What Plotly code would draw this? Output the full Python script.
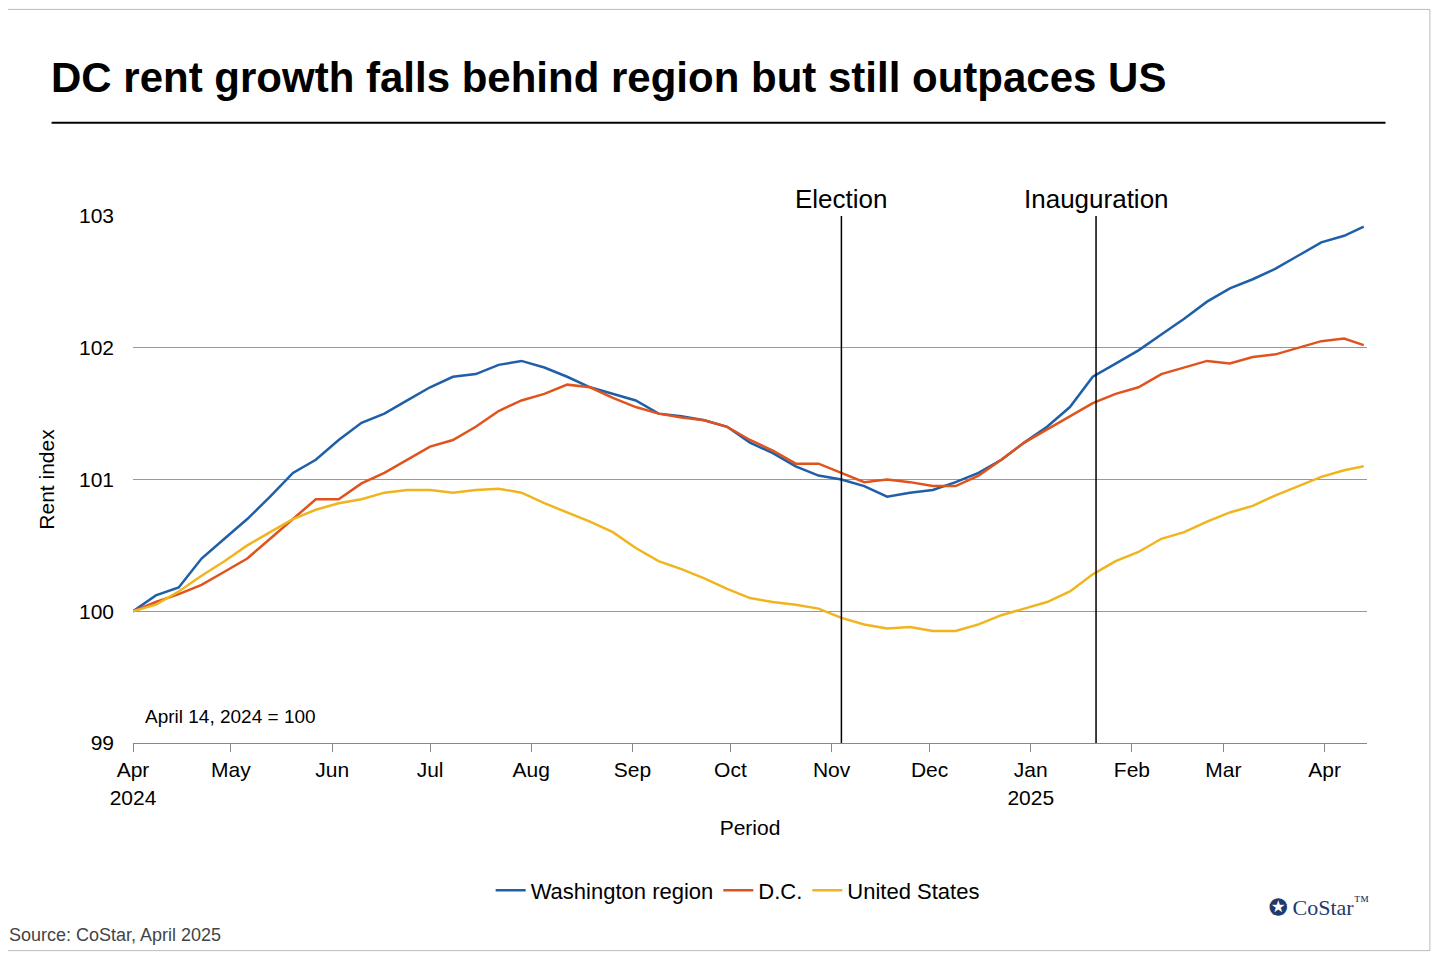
import pandas as pd
import plotly.graph_objects as go

dates = list(pd.date_range("2024-04-01", periods=54, freq="7D")) + [pd.Timestamp("2025-04-13")]

washington = [100.0, 100.12, 100.18, 100.4, 100.55, 100.7, 100.87, 101.05, 101.15, 101.3,
              101.43, 101.5, 101.6, 101.7, 101.78, 101.8, 101.87, 101.9, 101.85, 101.78,
              101.7, 101.65, 101.6, 101.5, 101.48, 101.45, 101.4, 101.28, 101.2, 101.1,
              101.03, 101.0, 100.95, 100.87, 100.9, 100.92, 100.98, 101.05, 101.15, 101.28,
              101.4, 101.55, 101.78, 101.88, 101.98, 102.1, 102.22, 102.35, 102.45, 102.52,
              102.6, 102.7, 102.8, 102.85, 102.92]
dc = [100.0, 100.07, 100.13, 100.2, 100.3, 100.4, 100.55, 100.7, 100.85, 100.85,
      100.97, 101.05, 101.15, 101.25, 101.3, 101.4, 101.52, 101.6, 101.65, 101.72,
      101.7, 101.62, 101.55, 101.5, 101.47, 101.45, 101.4, 101.3, 101.22, 101.12,
      101.12, 101.05, 100.98, 101.0, 100.98, 100.95, 100.95, 101.03, 101.15, 101.28,
      101.38, 101.48, 101.58, 101.65, 101.7, 101.8, 101.85, 101.9, 101.88, 101.93,
      101.95, 102.0, 102.05, 102.07, 102.02]
us = [100.0, 100.05, 100.15, 100.27, 100.38, 100.5, 100.6, 100.7, 100.77, 100.82,
      100.85, 100.9, 100.92, 100.92, 100.9, 100.92, 100.93, 100.9, 100.82, 100.75,
      100.68, 100.6, 100.48, 100.38, 100.32, 100.25, 100.17, 100.1, 100.07, 100.05,
      100.02, 99.95, 99.9, 99.87, 99.88, 99.85, 99.85, 99.9, 99.97, 100.02,
      100.07, 100.15, 100.28, 100.38, 100.45, 100.55, 100.6, 100.68, 100.75, 100.8,
      100.88, 100.95, 101.02, 101.07, 101.1]

tick_dates = pd.date_range("2024-04-01", "2025-04-01", freq="MS")
tick_labels = ["Apr<br>2024", "May", "Jun", "Jul", "Aug", "Sep", "Oct", "Nov", "Dec",
               "Jan<br>2025", "Feb", "Mar", "Apr"]
events = [("2024-11-04", "Election"), ("2025-01-21", "Inauguration")]

fig = go.Figure()
for name, vals, color in [("Washington region", washington, "#1f5fa8"),
                          ("D.C.", dc, "#e0531c"),
                          ("United States", us, "#f0b51e")]:
    fig.add_trace(go.Scatter(x=dates, y=vals, name=name, mode="lines",
                             line=dict(color=color, width=2.5)))

for d, label in events:
    fig.add_shape(type="line", x0=d, x1=d, y0=99, y1=103, xref="x", yref="y",
                  line=dict(color="black", width=1.5))
    fig.add_annotation(x=d, y=103, text=label, showarrow=False, yanchor="bottom",
                       font=dict(size=26, color="black"))

fig.add_annotation(text="<b>DC rent growth falls behind region but still outpaces US</b>",
                   xref="paper", yref="paper", x=-0.068, y=1.263, xanchor="left",
                   yanchor="middle", showarrow=False, font=dict(size=42, color="black"))
fig.add_shape(type="line", xref="paper", yref="paper", x0=-0.066, x1=1.015, y0=1.177, y1=1.177,
              line=dict(color="black", width=2))
fig.add_annotation(text="April 14, 2024 = 100", xref="paper", yref="y", x=0.008, y=99.2,
                   xanchor="left", showarrow=False, font=dict(size=19))
fig.add_annotation(text="Source: CoStar, April 2025", xref="paper", yref="paper",
                   x=-0.102, y=-0.387, xanchor="left", showarrow=False,
                   font=dict(size=18, color="#444"))
fig.add_annotation(text="<b style='color:#1f3a6e'>✪</b> CoStar<sup>™</sup>", xref="paper",
                   yref="paper", x=1.003, y=-0.34, xanchor="right", showarrow=False,
                   font=dict(size=22, color="#1f3a6e", family="Liberation Serif"))
fig.add_shape(type="rect", xref="paper", yref="paper", x0=-0.104, x1=1.051, y0=-0.394, y1=1.392,
              line=dict(color="#bbb", width=1))

fig.update_layout(
    width=1424, height=944,
    margin=dict(l=125, r=65, t=208, b=209),
    paper_bgcolor="white", plot_bgcolor="white",
    font=dict(family="Liberation Sans, Arial", size=22, color="black"),
    showlegend=True,
    legend=dict(orientation="h", x=0.49, xanchor="center", y=-0.28, yanchor="middle",
                font=dict(size=22)),
    xaxis=dict(range=["2024-04-01", "2025-04-14"], tickvals=tick_dates, ticktext=tick_labels,
               ticks="outside", ticklen=8, tickcolor="#888", showline=True, linecolor="#888",
               showgrid=False, tickfont=dict(size=21),
               title=dict(text="Period", standoff=12, font=dict(size=21))),
    yaxis=dict(range=[99, 103], dtick=1, showgrid=True, gridcolor="#999", zeroline=False,
               showline=False, tickfont=dict(size=21), ticklabelstandoff=18,
               title=dict(text="Rent index", standoff=18, font=dict(size=21))),
)

fig.write_html("out.html")
